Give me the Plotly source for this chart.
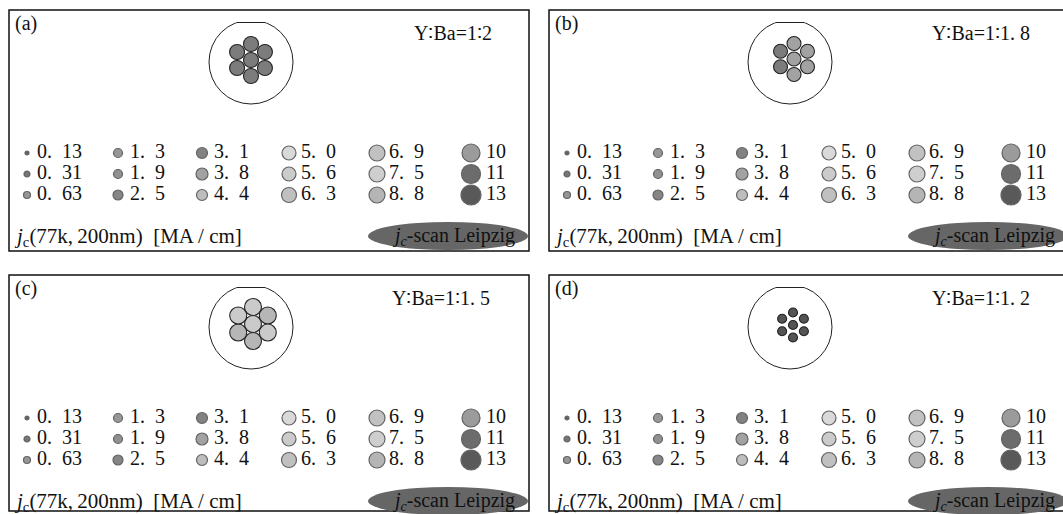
import plotly.graph_objects as go

# ---------------- data ----------------
jc_values = [0.13, 0.31, 0.63, 1.3, 1.9, 2.5, 3.1, 3.8, 4.4,
             5.0, 5.6, 6.3, 6.9, 7.5, 8.8, 10, 11, 13]
jc_labels = ["0. 13", "0. 31", "0. 63", "1. 3", "1. 9", "2. 5", "3. 1", "3. 8", "4. 4",
             "5. 0", "5. 6", "6. 3", "6. 9", "7. 5", "8. 8", "10", "11", "13"]
marker_diam = [4, 6, 7, 9, 9, 10, 11, 12, 11, 14, 14, 15, 16, 16, 16, 18, 19, 20]
marker_fill = ["#1e1e1e", "#3c3c3c", "#6a6a6a", "#6c6c6c", "#626262", "#545454",
               "#4e4e4e", "#7c7c7c", "#a2a2a2", "#cacaca", "#b6b6b6", "#a6a6a6",
               "#a8a8a8", "#bababa", "#969696", "#727272", "#2e2e2e", "#141414"]

panel_tags = ["(a)", "(b)", "(c)", "(d)"]
ratio_texts = ["Y\u2236Ba=1\u22362", "Y\u2236Ba=1\u22361. 8",
               "Y\u2236Ba=1\u22361. 5", "Y\u2236Ba=1\u22361. 2"]
# cluster order: top, upper-right, lower-right, bottom, lower-left, upper-left, centre
cluster_values = [
    [3.8, 3.8, 3.8, 3.8, 3.8, 3.8, 3.8],
    [4.4, 4.4, 4.4, 4.4, 3.8, 3.8, 4.4],
    [5.0, 5.6, 5.0, 5.6, 5.6, 5.0, 5.0],
    [2.5, 2.5, 2.5, 2.5, 2.5, 2.5, 2.5],
]
unit_label = "<i>j</i><sub>c</sub>(77k,\u2009200nm)\u2002[MA / cm]"
scan_label = "<i>j<sub>c</sub></i>-scan Leipzig"

# ---------------- layout helpers (pixel-like coordinates) ----------------
W, H = 1063, 514
panel_offsets = [(0, 0), (540, 0), (0, 265), (540, 265)]
panel_heights = [241, 241, 236, 236]
col_x = [27, 118, 202, 289, 377, 471]
txt_x = [37, 130, 214, 301, 389, 486]
row_y = [153, 174, 195]
ratio_x = [412, 390, 390, 390]
cluster_geo = [  # (cx, cy, spacing, marker size)
    (251, 60, 16, 15),
    (254, 59, 15.5, 14),
    (253, 59, 17, 17),
    (253, 60, 12.5, 9),
]
hex_dirs = [(0, -1), (0.87, -0.5), (0.87, 0.5), (0, 1), (-0.87, 0.5), (-0.87, -0.5), (0, 0)]
outer_c = [(251, 62), (250, 62), (251, 62), (250, 62)]
outer_r = 42

color_of = dict(zip(jc_values, marker_fill))

fig = go.Figure()
shapes = []
annotations = []
serif = "Liberation Serif"
ink = "#111111"

for p in range(4):
    ox, oy = panel_offsets[p]
    # panel frame
    shapes.append(dict(type="rect", xref="x", yref="y", layer="below",
                       x0=ox + 9, x1=ox + 529,
                       y0=oy + 10, y1=oy + 10 + panel_heights[p],
                       line=dict(color=ink, width=1.5), fillcolor="rgba(0,0,0,0)"))
    # outer sample circle with flat top
    cx, cy = outer_c[p]
    shapes.append(dict(type="circle", xref="x", yref="y", layer="below",
                       x0=ox + cx - outer_r, x1=ox + cx + outer_r,
                       y0=oy + cy - outer_r, y1=oy + cy + outer_r,
                       line=dict(color="#222222", width=1), fillcolor="white"))
    chord_y = cy - outer_r + 2.5
    shapes.append(dict(type="rect", xref="x", yref="y", layer="below",
                       x0=ox + cx - 16, x1=ox + cx + 16,
                       y0=oy + cy - outer_r - 2, y1=oy + chord_y,
                       line=dict(width=0), fillcolor="white"))
    shapes.append(dict(type="line", xref="x", yref="y", layer="below",
                       x0=ox + cx - 14.5, x1=ox + cx + 14.5,
                       y0=oy + chord_y, y1=oy + chord_y,
                       line=dict(color="#222222", width=1)))
    # scan ellipse
    shapes.append(dict(type="circle", xref="x", yref="y", layer="below",
                       x0=ox + 368, x1=ox + 528,
                       y0=oy + 222, y1=oy + 250, line=dict(width=0), fillcolor="#666666"))

    # cluster of measured spots
    gx, gy, gs, gm = cluster_geo[p]
    fig.add_trace(go.Scatter(
        x=[ox + gx + d[0] * gs for d in hex_dirs],
        y=[oy + gy + d[1] * gs for d in hex_dirs],
        mode="markers",
        marker=dict(size=gm, color=[color_of[v] for v in cluster_values[p]],
                    line=dict(color="#222222", width=1.1)),
        hoverinfo="skip", showlegend=False))

    # value legend: markers and labels
    xs, ys, sz, cl, lx = [], [], [], [], []
    for i, v in enumerate(jc_values):
        c, r = divmod(i, 3)
        xs.append(ox + col_x[c])
        lx.append(ox + txt_x[c])
        ys.append(oy + row_y[r])
        sz.append(marker_diam[i])
        cl.append(marker_fill[i])
    fig.add_trace(go.Scatter(
        x=xs, y=ys, mode="markers",
        marker=dict(size=sz, color=cl, line=dict(color="#222222", width=1.2)),
        hoverinfo="skip", showlegend=False))
    fig.add_trace(go.Scatter(
        x=lx, y=ys, mode="text", text=[t.replace(" ", "\u2002") for t in jc_labels],
        textposition="middle right",
        textfont=dict(family=serif, size=20, color=ink),
        hoverinfo="skip", showlegend=False))

    annotations.append(dict(x=ox + 13, y=oy + 23, xref="x", yref="y", text=panel_tags[p],
                            showarrow=False, xanchor="left", yanchor="middle",
                            font=dict(family=serif, size=20, color=ink)))
    annotations.append(dict(x=ox + ratio_x[p], y=oy + 33, xref="x", yref="y",
                            text=ratio_texts[p], showarrow=False, xanchor="left",
                            yanchor="middle",
                            font=dict(family=serif, size=20, color=ink)))
    annotations.append(dict(x=ox + 12, y=oy + 237, xref="x", yref="y", text=unit_label,
                            showarrow=False, xanchor="left", yanchor="middle",
                            font=dict(family=serif, size=21, color=ink)))
    annotations.append(dict(x=ox + 453, y=oy + 236, xref="x", yref="y", text=scan_label,
                            showarrow=False, xanchor="center", yanchor="middle",
                            font=dict(family=serif, size=20, color=ink)))

fig.update_layout(
    width=W, height=H, margin=dict(l=0, r=0, t=0, b=0),
    paper_bgcolor="white", plot_bgcolor="white",
    xaxis=dict(range=[0, W], visible=False, fixedrange=True),
    yaxis=dict(range=[H, 0], visible=False, fixedrange=True),
    shapes=shapes, annotations=annotations, showlegend=False,
)
fig.write_html("out.html", config={"displayModeBar": False},
               post_script="document.body.style.margin='0';")
